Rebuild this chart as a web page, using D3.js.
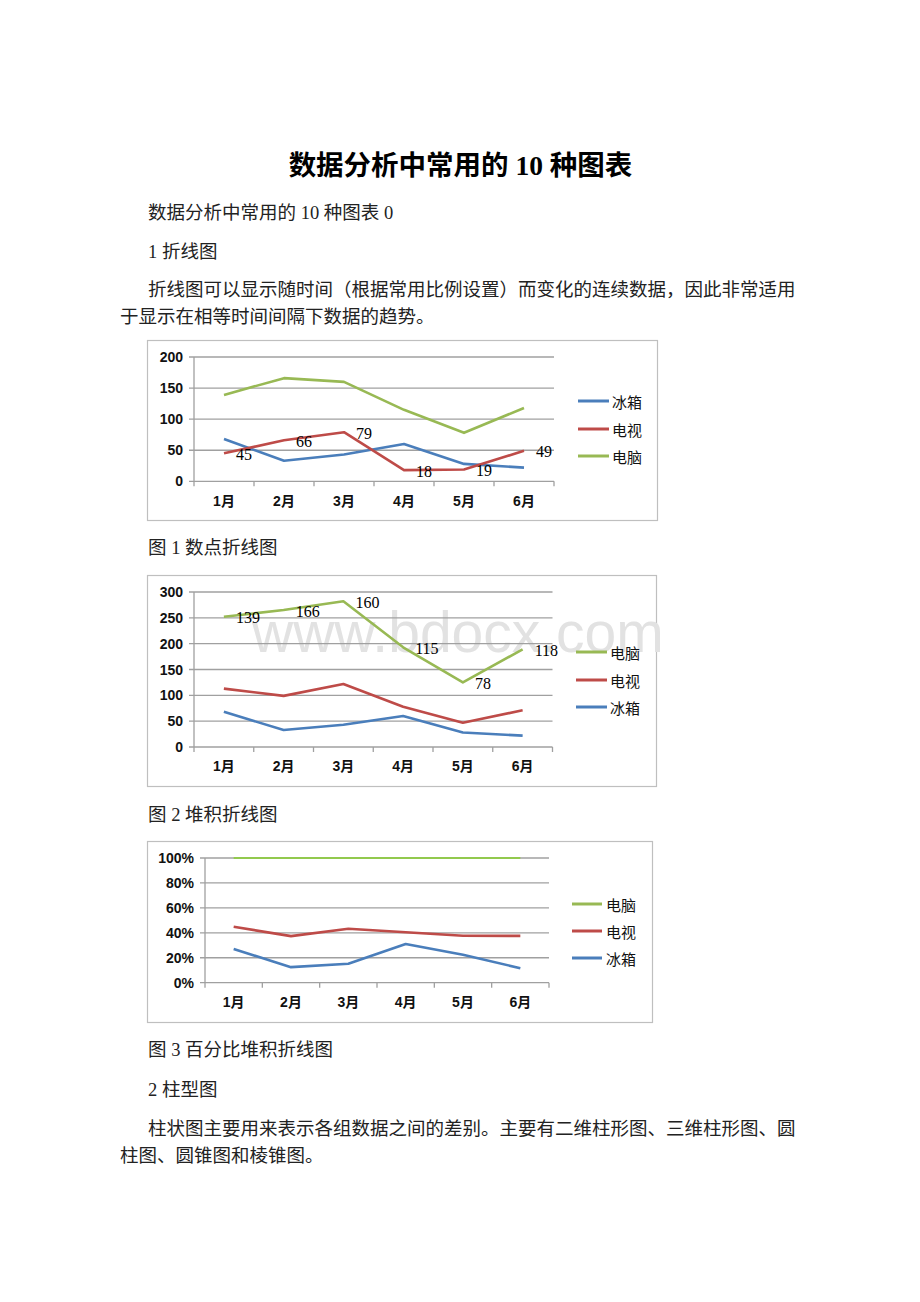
<!DOCTYPE html>
<html><head><meta charset="utf-8">
<script src="https://cdn.jsdelivr.net/npm/d3@7"></script>
<style>body{margin:0;background:#fff}svg{display:block}</style>
</head><body>
<svg id="page" width="920" height="1302"></svg>
<script>
// ---------- data ----------
const months = ["1月","2月","3月","4月","5月","6月"];
const fridge   = [68, 33, 43, 60, 28, 22];   // 冰箱
const tv       = [45, 66, 79, 18, 19, 49];   // 电视
const computer = [139, 166, 160, 115, 78, 118]; // 电脑
const seriesNames = ["冰箱","电视","电脑"];
const seriesColors = ["#4a7ebb","#be4b48","#98b954"];
const ticks1 = [0, 50, 100, 150, 200];
const ticks2 = [0, 50, 100, 150, 200, 250, 300];
const ticks3 = [0, 0.2, 0.4, 0.6, 0.8, 1.0];

const title = "数据分析中常用的 10 种图表";
const paras = [
  {t:"数据分析中常用的 10 种图表 0", x:148, y:213},
  {t:"1 折线图", x:148, y:252},
  {t:"折线图可以显示随时间（根据常用比例设置）而变化的连续数据，因此非常适用", x:148, y:290},
  {t:"于显示在相等时间间隔下数据的趋势。", x:120, y:317},
  {t:"图 1 数点折线图", x:148, y:548},
  {t:"图 2 堆积折线图", x:148, y:815},
  {t:"图 3 百分比堆积折线图", x:148, y:1050},
  {t:"2 柱型图", x:148, y:1090},
  {t:"柱状图主要用来表示各组数据之间的差别。主要有二维柱形图、三维柱形图、圆", x:148, y:1129},
  {t:"柱图、圆锥图和棱锥图。", x:120, y:1156}
];

// ---------- page ----------
const svg = d3.select("#page");
svg.append("rect").attr("width",920).attr("height",1302).attr("fill","#fff");
const bodyFont = "'Liberation Serif','Noto Sans CJK SC',serif";
const cjk = "'Noto Sans CJK SC','Liberation Sans',sans-serif";
const axisFont = "'Liberation Sans','Noto Sans CJK SC',sans-serif";

svg.append("text").attr("x",460.5).attr("y",165).attr("text-anchor","middle")
  .attr("dominant-baseline","central").attr("font-family",bodyFont)
  .attr("font-weight","bold").attr("font-size",27.5).attr("fill","#000").text(title);

svg.selectAll("text.p").data(paras).join("text").attr("class","p")
  .attr("x",d=>d.x).attr("y",d=>d.y).attr("dominant-baseline","central")
  .attr("font-family",bodyFont).attr("font-size",18.5).attr("fill","#222")
  .text(d=>d.t);

// ---------- chart helper ----------
function drawChart(cfg){
  const g = svg.append("g");
  g.append("rect").attr("x",cfg.box[0]+0.5).attr("y",cfg.box[1]+0.5)
    .attr("width",cfg.box[2]-cfg.box[0]).attr("height",cfg.box[3]-cfg.box[1])
    .attr("fill","#fff").attr("stroke","#bfbfbf").attr("stroke-width",1.2);
  const x = d3.scaleBand().domain(months).range([cfg.x0,cfg.x1]);
  const y = d3.scaleLinear().domain([0,cfg.max]).range([cfg.yb,cfg.yt]);
  const cx = m => x(m) + x.bandwidth()/2;

  if (cfg.watermark){
    g.append("text").attr("x",cfg.watermark[0]).attr("y",cfg.watermark[1])
      .attr("font-family","'Liberation Sans',Arial,sans-serif").attr("font-size",57)
      .attr("fill","#e2e2e2").text("www.bdocx.com");
  }
  // grid
  g.selectAll(null).data(cfg.ticks).join("line")
    .attr("x1",cfg.x0-5).attr("x2",cfg.x1)
    .attr("y1",d=>y(d)).attr("y2",d=>y(d))
    .attr("stroke","#a0a0a0").attr("stroke-width",1.3);
  // y axis line
  g.append("line").attr("x1",cfg.x0).attr("x2",cfg.x0).attr("y1",cfg.yt).attr("y2",cfg.yb)
    .attr("stroke","#a0a0a0").attr("stroke-width",1.3);
  // x ticks at band edges
  const edges = months.map(m=>x(m)).concat([cfg.x1]);
  g.selectAll(null).data(edges).join("line")
    .attr("x1",d=>d).attr("x2",d=>d).attr("y1",cfg.yb).attr("y2",cfg.yb+5)
    .attr("stroke","#a0a0a0").attr("stroke-width",1.3);
  // y labels
  g.selectAll(null).data(cfg.ticks).join("text")
    .attr("x",cfg.x0-11).attr("y",d=>y(d)).attr("text-anchor","end")
    .attr("dominant-baseline","central").attr("font-family",axisFont)
    .attr("font-weight","bold").attr("font-size",14).attr("fill","#111")
    .text(cfg.fmt);
  // x labels
  g.selectAll(null).data(months).join("text")
    .attr("x",cx).attr("y",cfg.xly).attr("text-anchor","middle")
    .attr("dominant-baseline","central").attr("font-family",axisFont)
    .attr("font-weight","bold").attr("font-size",14).attr("fill","#111")
    .text(d=>d);
  // lines
  const line = d3.line().x((d,i)=>cx(months[i])).y(d=>y(d));
  cfg.series.forEach(s=>{
    g.append("path").attr("d",line(s.values)).attr("fill","none")
      .attr("stroke",s.color).attr("stroke-width",s.width||2.6)
      .attr("stroke-linejoin","round");
  });
  // data labels
  if (cfg.labels){
    g.selectAll(null).data(cfg.labels.pos).join("text")
      .attr("x",(d,i)=>cx(months[i])+12).attr("y",d=>y(d)+1)
      .attr("dominant-baseline","central").attr("font-family","'Liberation Serif',serif")
      .attr("font-size",16).attr("fill","#000")
      .text((d,i)=>cfg.labels.text[i]);
  }
  // legend
  cfg.legend.items.forEach((it,i)=>{
    const ly = cfg.legend.ys[i];
    g.append("line").attr("x1",cfg.legend.lx0).attr("x2",cfg.legend.lx1)
      .attr("y1",ly).attr("y2",ly).attr("stroke",it.color).attr("stroke-width",3);
    g.append("text").attr("x",cfg.legend.tx).attr("y",ly).attr("dominant-baseline","central")
      .attr("font-family",cjk).attr("font-size",15).attr("fill","#111").text(it.name);
  });
}

const raw = [fridge, tv, computer];

// Chart 1
drawChart({
  box:[147,340,657,520], x0:194, x1:554, yb:481.3, yt:357, max:200, ticks:ticks1,
  fmt:d=>d, xly:501,
  series: raw.map((v,i)=>({name:seriesNames[i], color:seriesColors[i], values:v})),
  labels:{pos:tv, text:tv},
  legend:{lx0:578, lx1:609, tx:612, ys:[401,429,456],
    items: seriesNames.map((n,i)=>({name:n,color:seriesColors[i]}))}
});

// Chart 2 stacked
const table = months.map((m,i)=>({m, 冰箱:fridge[i], 电视:tv[i], 电脑:computer[i]}));
const stacked = d3.stack().keys(seriesNames)(table);
drawChart({
  box:[147,575,656,786], x0:194, x1:552.5, yb:747, yt:592, max:300, ticks:ticks2,
  fmt:d=>d, xly:766, watermark:[252,652],
  series: stacked.map((s,i)=>({name:seriesNames[i], color:seriesColors[i], values:s.map(d=>d[1])})),
  labels:{pos:stacked[2].map(d=>d[1]), text:computer},
  legend:{lx0:576, lx1:607, tx:610, ys:[652,680,707],
    items: [2,1,0].map(i=>({name:seriesNames[i],color:seriesColors[i]}))}
});

// Chart 3 percent stacked
const pct = d3.stack().keys(seriesNames).offset(d3.stackOffsetExpand)(table);
drawChart({
  box:[147,841,652,1022], x0:205, x1:549, yb:982.7, yt:858, max:1, ticks:ticks3,
  fmt:d=>Math.round(d*100)+"%", xly:1001.5,
  series: pct.map((s,i)=>({name:seriesNames[i], color: i===2 ? "#92c94e" : seriesColors[i],
     width: i===2 ? 2 : 2.6, values:s.map(d=>d[1])})),
  legend:{lx0:572, lx1:602, tx:606, ys:[904,931,958],
    items: [2,1,0].map(i=>({name:seriesNames[i],color:seriesColors[i]}))}
});
</script>
</body></html>
